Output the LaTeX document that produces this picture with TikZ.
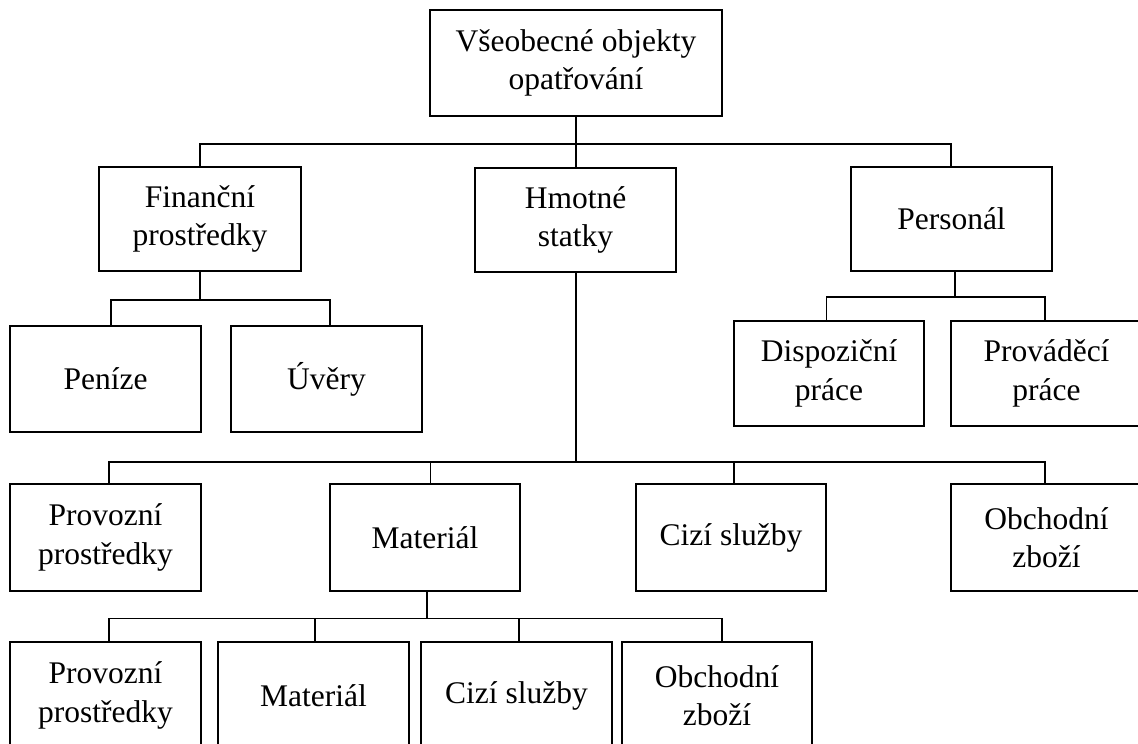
\documentclass[tikz,border=0pt]{standalone}
\usepackage{fontspec}
\setmainfont{Liberation Serif}
\newcommand\boxfont{\fontsize{31.5}{38.5}\selectfont}
\begin{document}
\begin{tikzpicture}[x=1pt,y=-1pt,
  box/.style={draw, line width=1.8pt, inner sep=0pt, align=center, font=\boxfont},
  conn/.style={line width=1.8pt}]
\useasboundingbox (0,0) rectangle (1138,744);
\clip (0,0) rectangle (1138,744);
% row 0
\node[box, minimum width=292pt, minimum height=106pt] (top) at (576,63) {Všeobecné objekty\\opatřování};
% row 1
\node[box, minimum width=202pt, minimum height=104pt] (fin) at (200,219) {Finanční\\prostředky};
\node[box, minimum width=201pt, minimum height=104pt] (hmot) at (575.5,220) {Hmotné\\statky};
\node[box, minimum width=201pt, minimum height=104pt] (pers) at (951.5,219) {Personál};
% row 2
\node[box, minimum width=191pt, minimum height=106pt] (pen) at (105.5,379) {Peníze};
\node[box, minimum width=191pt, minimum height=106pt] (uver) at (326.5,379) {Úvěry};
\node[box, minimum width=190pt, minimum height=105pt] (disp) at (829,373.5) {Dispoziční\\práce};
\node[box, minimum width=191pt, minimum height=105pt] (prov) at (1046.5,373.5) {Prováděcí\\práce};
% row 3
\node[box, minimum width=191pt, minimum height=107pt] (provoz) at (105.5,537.5) {Provozní\\prostředky};
\node[box, minimum width=190pt, minimum height=107pt] (mat) at (425,537.5) {Materiál};
\node[box, minimum width=190pt, minimum height=107pt] (cizi) at (731,537.5) {Cizí služby};
\node[box, minimum width=191pt, minimum height=107pt] (obch) at (1046.5,537.5) {Obchodní\\zboží};
% row 4
\node[box, minimum width=191pt, minimum height=107pt] (provozB) at (105.5,695.5) {Provozní\\prostředky};
\node[box, minimum width=191pt, minimum height=107pt] (matB) at (313.5,695.5) {Materiál};
\node[box, minimum width=191pt, minimum height=107pt] (ciziB) at (516.5,695.5) {Cizí služby};
\node[box, minimum width=190pt, minimum height=107pt] (obchB) at (717,695.5) {Obchodní\\zboží};
% bus points
\coordinate (b1) at (576,144);
\coordinate (b2) at (200,300);
\coordinate (b3) at (955,297);
\coordinate (b4) at (576,462);
\coordinate (b5) at (427,618.5);
% connectors
\draw[conn] (top.south) -- (b1);
\draw[conn] (fin.north) |- (b1) -| ([xshift=-0.5pt]pers.north);
\draw[conn] (b1) -- ([xshift=0.5pt]hmot.north);
\draw[conn] (fin.south) -- (b2);
\draw[conn] ([xshift=5.5pt]pen.north) |- (b2) -| ([xshift=3.5pt]uver.north);
\draw[conn] ([xshift=3.5pt]pers.south) -- (b3);
\draw[conn] ([xshift=-2.5pt]disp.north) |- (b3) -| ([xshift=-1.5pt]prov.north);
\draw[conn] ([xshift=0.5pt]hmot.south) -- (b4);
\draw[conn] ([xshift=3.5pt]provoz.north) |- (b4) -| ([xshift=-1.5pt]obch.north);
\draw[conn] ([xshift=5.5pt]mat.north) -- ([xshift=5.5pt]mat.north |- b4);
\draw[conn] ([xshift=3pt]cizi.north) -- ([xshift=3pt]cizi.north |- b4);
\draw[conn] ([xshift=2pt]mat.south) -- (b5);
\draw[conn] ([xshift=3.5pt]provozB.north) |- (b5) -| ([xshift=5pt]obchB.north);
\draw[conn] ([xshift=1.5pt]matB.north) -- ([xshift=1.5pt]matB.north |- b5);
\draw[conn] ([xshift=2.5pt]ciziB.north) -- ([xshift=2.5pt]ciziB.north |- b5);
\end{tikzpicture}
\end{document}
